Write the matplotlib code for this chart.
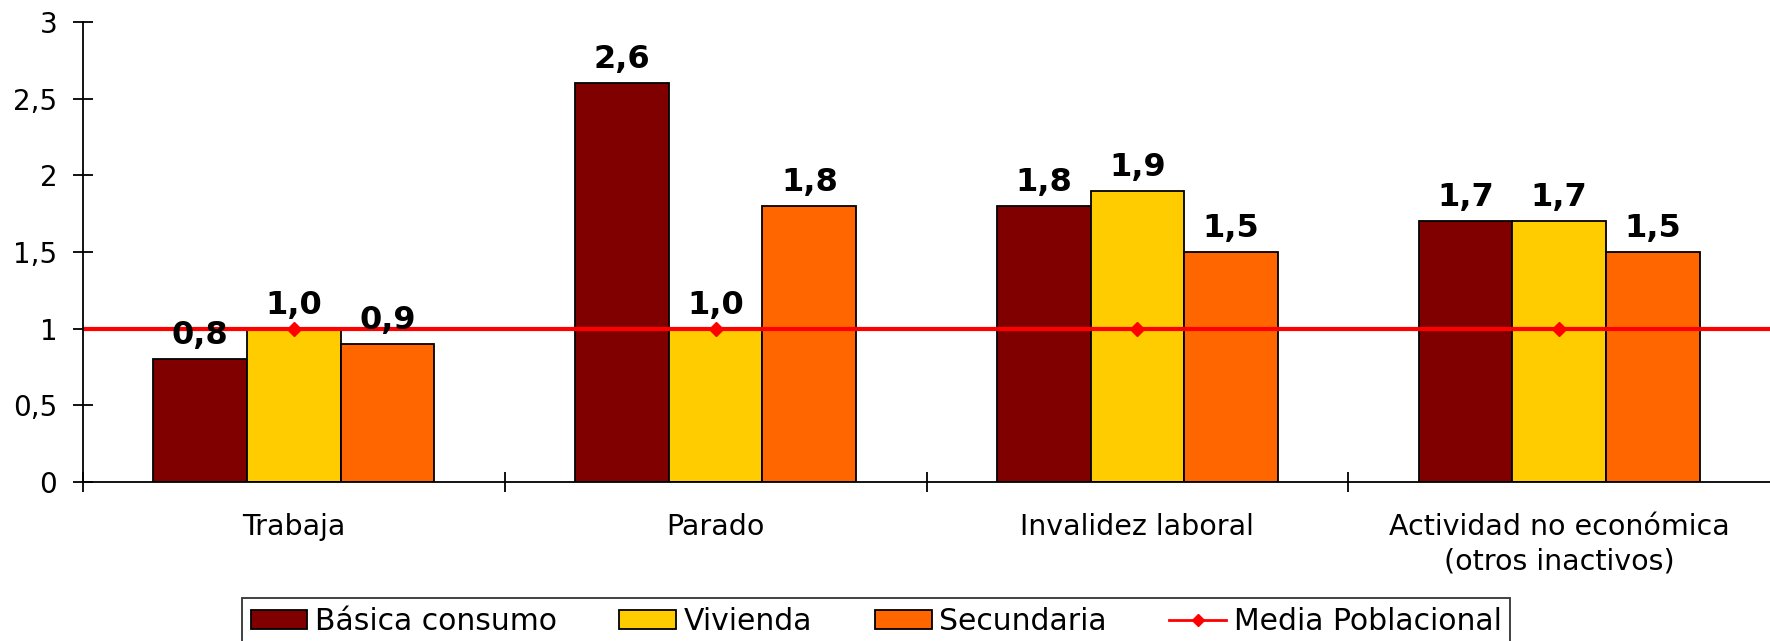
import matplotlib
matplotlib.use("Agg")
import matplotlib.pyplot as plt
import numpy as np
from matplotlib.patches import Patch
from matplotlib.lines import Line2D
from matplotlib.ticker import FuncFormatter, FixedLocator

categories = ["Trabaja", "Parado", "Invalidez laboral", "Actividad no económica\n(otros inactivos)"]
series_names = ["Básica consumo", "Vivienda", "Secundaria"]
basica = [0.8, 2.6, 1.8, 1.7]
vivienda = [1.0, 1.0, 1.9, 1.7]
secundaria = [0.9, 1.8, 1.5, 1.5]
media = [1.0, 1.0, 1.0, 1.0]
line_name = "Media Poblacional"
colors = ["#800000", "#FFCC00", "#FF6600"]

plt.rcParams['font.family'] = ['DejaVu Sans']
fig = plt.figure(figsize=(17.7, 6.41), dpi=100)
ax = fig.add_axes([83/1770, 159/641, 1 - 83/1770, 460/641])

x = np.arange(len(categories))
w = 1 / 4.5
for i, (vals, c) in enumerate(zip([basica, vivienda, secundaria], colors)):
    ax.bar(x + (i - 1) * w, vals, width=w, color=c, edgecolor="black", linewidth=1.3, zorder=2)
    for xi, v in zip(x + (i - 1) * w, vals):
        ax.annotate(f"{v:.1f}".replace(".", ","), (xi, v), xytext=(0, 17), textcoords="offset points",
                    ha="center", va="center", fontsize=23, fontweight="bold", zorder=5)

ax.axhline(media[0], color="#FF0000", linewidth=3, zorder=3)
ax.plot(x, media, linestyle="none", marker="D", markersize=7, color="#FF0000", zorder=4)

ax.set_xlim(-0.5, 3.5)
ax.set_ylim(0, 3)
ax.set_yticks([0, 0.5, 1, 1.5, 2, 2.5, 3])
ax.yaxis.set_major_formatter(FuncFormatter(lambda v, p: (f"{v:g}").replace(".", ",")))
ax.tick_params(axis="y", direction="inout", length=15, width=1.3, labelsize=20, pad=11)

ax.set_xticks(x)
ax.set_xticklabels(categories, fontsize=20.5, linespacing=1.3)
ax.tick_params(axis="x", which="major", length=0, pad=22)
ax.xaxis.set_minor_locator(FixedLocator([-0.5, 0.5, 1.5, 2.5]))
ax.tick_params(axis="x", which="minor", direction="inout", length=15, width=1.3)

for s in ["top", "right"]:
    ax.spines[s].set_visible(False)
for s in ["left", "bottom"]:
    ax.spines[s].set_linewidth(1.3)
    ax.spines[s].set_zorder(6)

handles = [Patch(facecolor=c, edgecolor="black", linewidth=1.3) for c in colors]
handles.append(Line2D([0], [0], color="#FF0000", linewidth=2, marker="D", markersize=6))
leg = fig.legend(handles, series_names + [line_name], loc="upper center",
                 bbox_to_anchor=(876/1770, 43/641), ncol=4, fontsize=21.5, frameon=True,
                 fancybox=False, edgecolor="black", handlelength=1.9, handleheight=0.65,
                 columnspacing=2.1, handletextpad=0.25, borderpad=0.3, borderaxespad=0)
leg.get_frame().set_linewidth(1.3)

fig.savefig("out.png", dpi=100)
